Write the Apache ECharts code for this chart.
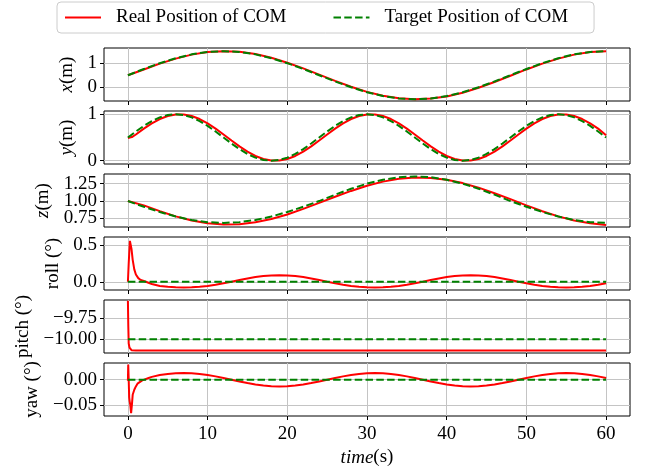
<!DOCTYPE html>
<html><head><meta charset="utf-8">
<script src="https://cdn.jsdelivr.net/npm/echarts@6/dist/echarts.min.js"></script>
<style>html,body{margin:0;padding:0;background:#fff}#c{width:646px;height:471px}</style>
</head><body><div id="c"></div>
<script>
// ---------------- data ----------------
const seriesNames = ['Real Position of COM', 'Target Position of COM'];
const timeTicks = [0, 10, 20, 30, 40, 50, 60];

const tEven = [0,2,4,6,8,10,12,14,16,18,20,22,24,26,28,30,32,34,36,38,40,42,44,46,48,50,52,54,56,58,60];
const tSec = [0,1,2,3,4,5,6,7,8,9,10,11,12,13,14,15,16,17,18,19,20,21,22,23,24,25,26,27,28,29,30,31,32,33,34,35,36,37,38,39,40,41,42,43,44,45,46,47,48,49,50,51,52,53,54,55,56,57,58,59,60];

const xReal = [0.50,0.74,0.98,1.19,1.355,1.46,1.50,1.475,1.38,1.225,1.02,0.785,0.525,0.265,0.02,-0.19,-0.355,-0.46,-0.50,-0.47,-0.38,-0.225,-0.02,0.22,0.48,0.74,0.98,1.19,1.355,1.46,1.495];
const xTarget = [0.5,0.759,1.0,1.207,1.366,1.466,1.5,1.466,1.366,1.207,1.0,0.759,0.5,0.241,0.0,-0.207,-0.366,-0.466,-0.5,-0.466,-0.366,-0.207,0.0,0.241,0.5,0.759,1.0,1.207,1.366,1.466,1.5];

const yRealTime = [0,0.5,1,2,3,4,5,6,7,8,9,10,11,12,13,14,15,16,17,18,19,20,21,22,23,24,25,26,27,28,29,30,31,32,33,34,35,36,37,38,39,40,41,42,43,44,45,46,47,48,49,50,51,52,53,54,55,56,57,58,59,60];
const yReal = [0.49,0.51,0.565,0.691,0.804,0.897,0.962,0.996,0.996,0.962,0.897,0.804,0.691,0.565,0.435,0.309,0.196,0.103,0.038,0.004,0.004,0.038,0.103,0.196,0.309,0.435,0.565,0.691,0.804,0.897,0.962,0.996,0.996,0.962,0.897,0.804,0.691,0.565,0.435,0.309,0.196,0.103,0.038,0.004,0.004,0.038,0.103,0.196,0.309,0.435,0.565,0.691,0.804,0.897,0.962,0.996,0.996,0.962,0.897,0.804,0.691,0.55];
const yTarget = [0.5,0.629,0.75,0.854,0.933,0.983,1.0,0.983,0.933,0.854,0.75,0.629,0.5,0.371,0.25,0.146,0.067,0.017,0,0.017,0.067,0.146,0.25,0.371,0.5,0.629,0.75,0.854,0.933,0.983,1.0,0.983,0.933,0.854,0.75,0.629,0.5,0.371,0.25,0.146,0.067,0.017,0,0.017,0.067,0.146,0.25,0.371,0.5,0.629,0.75,0.854,0.933,0.983,1.0,0.983,0.933,0.854,0.75,0.629,0.5];

const zReal = [1.0,0.938,0.854,0.779,0.720,0.680,0.661,0.666,0.693,0.741,0.807,0.887,0.973,1.062,1.146,1.221,1.280,1.320,1.339,1.334,1.307,1.259,1.193,1.113,1.027,0.938,0.854,0.779,0.720,0.680,0.655];
const zTarget = [1.0,0.918,0.8425,0.777,0.727,0.696,0.685,0.696,0.727,0.777,0.8425,0.918,1.0,1.092,1.1775,1.251,1.307,1.343,1.355,1.343,1.307,1.251,1.1775,1.092,1.0,0.918,0.8425,0.777,0.727,0.696,0.685];

const rollRealTime = [0,0.1,0.25,0.32,0.45,0.6,0.8,1,1.3,1.6,2,2.5,3,4,5,6,7,8,9,10,11,12,13,14,15,16,17,18,19,20,21,22,23,24,25,26,27,28,29,30,31,32,33,34,35,36,37,38,39,40,41,42,43,44,45,46,47,48,49,50,51,52,53,54,55,56,57,58,59,60];
const rollReal = [0,0.25,0.56,0.58,0.45,0.30,0.17,0.10,0.05,0.025,0.01,-0.01,-0.03,-0.057,-0.069,-0.077,-0.08,-0.077,-0.069,-0.057,-0.04,-0.021,0,0.023,0.045,0.064,0.078,0.087,0.09,0.087,0.078,0.064,0.045,0.023,0,-0.021,-0.04,-0.057,-0.069,-0.077,-0.08,-0.077,-0.069,-0.057,-0.04,-0.021,0,0.023,0.045,0.064,0.078,0.087,0.09,0.087,0.078,0.064,0.045,0.023,0,-0.021,-0.04,-0.057,-0.069,-0.077,-0.08,-0.077,-0.069,-0.057,-0.04,-0.021];
const rollTargetTime = [0, 60];
const rollTarget = [0, 0];

const pitchRealTime = [0,0.05,0.1,0.2,0.3,0.45,1,60];
const pitchReal = [-9.545,-9.85,-10.05,-10.1,-10.12,-10.13,-10.133,-10.133];
const pitchTargetTime = [0, 60];
const pitchTarget = [-10, -10];

const yawRealTime = [0,0.04,0.1,0.16,0.22,0.3,0.4,0.5,0.6,0.8,1,1.2,1.4,1.8,2.6,3,4,5,6,7,8,9,10,11,12,13,14,15,16,17,18,19,20,21,22,23,24,25,26,27,28,29,30,31,32,33,34,35,36,37,38,39,40,41,42,43,44,45,46,47,48,49,50,51,52,53,54,55,56,57,58,59,60];
const yawReal = [-0.002,0.03,0.0,-0.035,-0.043,-0.05,-0.0666,-0.05,-0.03,-0.02,-0.0134,-0.008,-0.0046,-0.0014,0.0034,0.0055,0.0092,0.0113,0.0126,0.013,0.0126,0.0113,0.0092,0.0065,0.0034,0,-0.0035,-0.0068,-0.0095,-0.0117,-0.013,-0.0135,-0.013,-0.0117,-0.0095,-0.0068,-0.0035,0,0.0034,0.0065,0.0092,0.0113,0.0126,0.013,0.0126,0.0113,0.0092,0.0065,0.0034,0,-0.0035,-0.0068,-0.0095,-0.0117,-0.013,-0.0135,-0.013,-0.0117,-0.0095,-0.0068,-0.0035,0,0.0034,0.0065,0.0092,0.0113,0.0126,0.013,0.0126,0.0113,0.0092,0.0065,0.0034];
const yawTargetTime = [0, 60];
const yawTarget = [0, 0];

const xTicks = [0, 1];
const yTicks = [0, 1];
const zTicks = [0.75, 1.00, 1.25];
const rollTicks = [0.0, 0.5];
const pitchTicks = [-10.00, -9.75];
const yawTicks = [-0.05, 0.00];

// ---------------- chart ----------------
const pairs = (ts, vs) => ts.map((t, i) => [t, vs[i]]);
const FONT = 'Liberation Serif';
const FS = 19;

const panels = [
  {real: pairs(tEven, xReal), target: pairs(tEven, xTarget), min: -0.57, max: 1.63, ticks: xTicks, dec: 0, name: '{i|x}(m)', gap: 22},
  {real: pairs(yRealTime, yReal), target: pairs(tSec, yTarget), min: -0.07, max: 1.07, ticks: yTicks, dec: 0, name: '{i|y}(m)', gap: 22},
  {real: pairs(tEven, zReal), target: pairs(tEven, zTarget), min: 0.626, max: 1.39, ticks: zTicks, dec: 2, name: '{i|z}(m)', gap: 47},
  {real: pairs(rollRealTime, rollReal), target: pairs(rollTargetTime, rollTarget), min: -0.113, max: 0.613, ticks: rollTicks, dec: 1, name: 'roll (°)', gap: 37},
  {real: pairs(pitchRealTime, pitchReal), target: pairs(pitchTargetTime, pitchTarget), min: -10.163, max: -9.535, ticks: pitchTicks, dec: 2, name: 'pitch (°)', gap: 67},
  {real: pairs(yawRealTime, yawReal), target: pairs(yawTargetTime, yawTarget), min: -0.072, max: 0.033, ticks: yawTicks, dec: 2, name: 'yaw (°)', gap: 62}
];

const gridColor = '#c4c4c4';
const nameStyle = {fontFamily: FONT, fontSize: FS, color: '#000', rich: {i: {fontFamily: FONT, fontSize: FS, fontStyle: 'italic', color: '#000'}}};
const grids = [], xAxes = [], yAxes = [], series = [];

function makeYAxis(p, i, ticks, withName) {
  return {
    type: 'value', gridIndex: i, min: p.min, max: p.max, position: 'left', offset: 0,
    axisLine: {show: false, onZero: false},
    axisTick: {show: true, inside: false, length: 4, customValues: ticks, lineStyle: {color: '#000', width: 1}},
    axisLabel: {customValues: ticks, margin: 7, fontFamily: FONT, fontSize: FS, color: '#000',
      hideOverlap: false, showMinLabel: true, showMaxLabel: true,
      formatter: (v) => Number(v).toFixed(p.dec).replace('-', '\u2212')},
    splitLine: {show: true, lineStyle: {color: gridColor, width: 1}},
    name: withName ? p.name : '', nameLocation: 'middle', nameGap: p.gap, nameRotate: 90,
    nameTextStyle: nameStyle
  };
}

panels.forEach((p, i) => {
  grids.push({left: 104, right: 16, top: 48 + 63 * i, height: 53, show: true, borderColor: '#000', borderWidth: 1, backgroundColor: 'transparent'});
  const last = i === panels.length - 1;
  xAxes.push({
    type: 'value', gridIndex: i, min: -3, max: 63, position: 'bottom',
    axisLine: {show: false, onZero: false},
    axisTick: {show: true, inside: false, length: 4, customValues: timeTicks, lineStyle: {color: '#000', width: 1}},
    axisLabel: {show: last, customValues: timeTicks, margin: 9, fontFamily: FONT, fontSize: FS, color: '#000',
      hideOverlap: false, showMinLabel: true, showMaxLabel: true},
    splitLine: {show: true, lineStyle: {color: gridColor, width: 1}},
    name: last ? '{i|time}(s)' : '', nameLocation: 'middle', nameGap: 32,
    nameTextStyle: nameStyle
  });
  // ticks are split over two overlaid axes so that closely spaced labels are all drawn
  const tickA = p.ticks.filter((v, k) => k % 2 === 0);
  const tickB = p.ticks.filter((v, k) => k % 2 === 1);
  const yIndex = yAxes.length;
  yAxes.push(makeYAxis(p, i, tickA, true));
  if (tickB.length) yAxes.push(makeYAxis(p, i, tickB, false));
  series.push({
    name: seriesNames[0], type: 'line', xAxisIndex: i, yAxisIndex: yIndex, data: p.real,
    symbol: 'none', showSymbol: false, smooth: false, clip: true,
    lineStyle: {color: '#ff0000', width: 2}, itemStyle: {color: '#ff0000'}
  });
  series.push({
    name: seriesNames[1], type: 'line', xAxisIndex: i, yAxisIndex: yIndex, data: p.target,
    symbol: 'none', showSymbol: false, smooth: false, clip: true,
    lineStyle: {color: '#008000', width: 2, type: [7.5, 3.3]}, itemStyle: {color: '#008000'}
  });
});

const chart = echarts.init(document.getElementById('c'), null, {renderer: 'canvas'});
chart.setOption({
  animation: false,
  backgroundColor: '#fff',
  legend: {
    left: 57, top: 2, orient: 'horizontal',
    padding: [6, 7],
    itemWidth: 36, itemHeight: 12, itemGap: 46,
    itemStyle: {opacity: 0},
    backgroundColor: 'rgba(255,255,255,0.8)',
    borderColor: '#cccccc', borderWidth: 1, borderRadius: 4,
    formatter: (name) => name === seriesNames[1] ? name + '{p|\u2003}' : name,
    textStyle: {fontFamily: FONT, fontSize: FS, color: '#000', padding: [0, 0, 0, 10], rich: {p: {width: 14, fontSize: FS, fontFamily: FONT}}},
    data: seriesNames
  },
  grid: grids, xAxis: xAxes, yAxis: yAxes, series: series
});
</script></body></html>
